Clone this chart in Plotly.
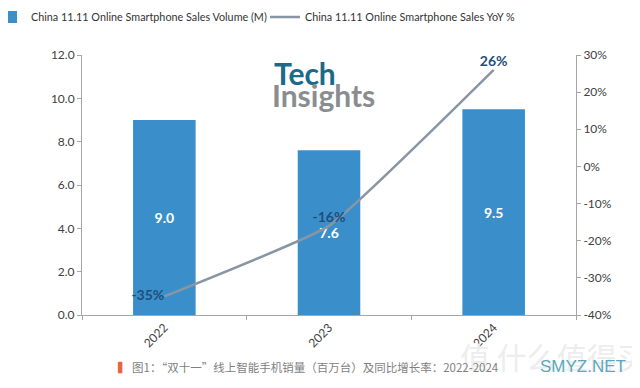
import plotly.graph_objects as go

years = ["2022", "2023", "2024"]
volume = [9.0, 7.6, 9.5]
yoy = [-35, -16, 26]
volume_labels = ["9.0", "7.6", "9.5"]
yoy_labels = ["-35%", "-16%", "26%"]
left_ticks = [0, 2, 4, 6, 8, 10, 12]
left_tick_text = ["0.0", "2.0", "4.0", "6.0", "8.0", "10.0", "12.0"]
right_ticks = [-40, -30, -20, -10, 0, 10, 20, 30]
right_tick_text = ["-40%", "-30%", "-20%", "-10%", "0%", "10%", "20%", "30%"]

FONT = "Lato, 'Noto Sans', sans-serif"
OFF = 8  # page body margin
W, H = 640, 388
L, R, T, B = 82 - OFF, 64 + OFF, 55 - OFF, 73 + OFF
PW, PH = W - L - R, H - T - B

fig = go.Figure()
fig.add_trace(go.Bar(
    x=years, y=volume, name="China 11.11 Online Smartphone Sales Volume (M)",
    marker=dict(color="#3a8fcb", line=dict(width=0)),
    width=0.38, legend="legend",
    text=volume_labels, textposition="inside", insidetextanchor="middle",
    textfont=dict(color="white", size=14, family=FONT, weight="bold"),
    yaxis="y", cliponaxis=False,
))
fig.add_trace(go.Scatter(
    x=years, y=yoy, name="China 11.11 Online Smartphone Sales YoY %",
    mode="lines+text", line=dict(color="#8896a4", width=2.5, shape="spline", smoothing=0.35),
    text=yoy_labels, textposition=["middle left", "top center", "top center"],
    textfont=dict(color="#1f4e79", size=14, family=FONT, weight="bold"),
    yaxis="y2", cliponaxis=False, legend="legend2",
))

axis_col = "#a6a6a6"
leg_common = dict(orientation="h", xref="paper", yref="container", y=1 - 9 / H,
                  xanchor="left", yanchor="middle", font=dict(size=10.8, color="#333333"),
                  itemwidth=30, bgcolor="rgba(0,0,0,0)")
fig.update_layout(
    width=W, height=H,
    margin=dict(l=L, r=R, t=T, b=B, autoexpand=False),
    paper_bgcolor="white", plot_bgcolor="white",
    font=dict(family=FONT, size=12, color="#595959"),
    showlegend=True,
    legend=dict(x=(-17 - L) / PW, **leg_common),
    legend2=dict(x=(257 - L) / PW, **leg_common),
    bargap=0.6,
    xaxis=dict(type="category", tickangle=-45, showline=True, linecolor=axis_col, linewidth=1,
               ticks="outside", tickson="boundaries", ticklen=4, tickcolor=axis_col,
               showgrid=False, tickfont=dict(size=12, color="#404040"), range=[-0.5, 2.5],
               automargin=False),
    yaxis=dict(range=[0, 12], tickvals=left_ticks, ticktext=left_tick_text, showline=True,
               linecolor=axis_col, ticks="outside", ticklen=4, tickcolor=axis_col,
               showgrid=False, zeroline=False, tickfont=dict(size=12, color="#404040"),
               automargin=False),
    yaxis2=dict(range=[-40, 30], tickvals=right_ticks, ticktext=right_tick_text, overlaying="y",
                side="right", showline=True, linecolor=axis_col, ticks="outside", ticklen=4,
                tickcolor=axis_col, showgrid=False, zeroline=False,
                tickfont=dict(size=12, color="#404040"), automargin=False),
)

# positions given in screenshot pixels
anns = [
    dict(text="<b>Tech</b>", x=272, y=73, xanchor="left", yanchor="middle",
         font=dict(size=30, color="#1b6a8a", family=FONT)),
    dict(text="<b>Insights</b>", x=270, y=95, xanchor="left", yanchor="middle",
         font=dict(size=30, color="#8a8d90", family=FONT)),
    dict(text="值 什么值得买", x=458, y=356, xanchor="left", yanchor="middle",
         font=dict(size=30, color="#ededed", family="'Noto Sans CJK SC', sans-serif")),
    dict(text="<span style='color:#e8643c'>▍</span> 图1：\u201c双十一\u201d线上智能手机销量（百万台）及同比增长率：2022-2024",
         x=116, y=367, xanchor="left", yanchor="middle",
         font=dict(size=11.5, color="#7f7f7f", family="'Noto Sans CJK SC', sans-serif")),
    dict(text="SMYZ.NET", x=538, y=366, xanchor="left", yanchor="middle",
         font=dict(size=17, color="#5aa9bd", family="'Liberation Sans', sans-serif")),
]
for a in anns:
    fig.add_annotation(text=a["text"], x=(a["x"] - OFF - L) / PW, y=(H - B - (a["y"] - OFF)) / PH,
                       xref="paper", yref="paper", xanchor=a["xanchor"], yanchor=a["yanchor"],
                       showarrow=False, font=a["font"])

fig.write_html("out.html")
